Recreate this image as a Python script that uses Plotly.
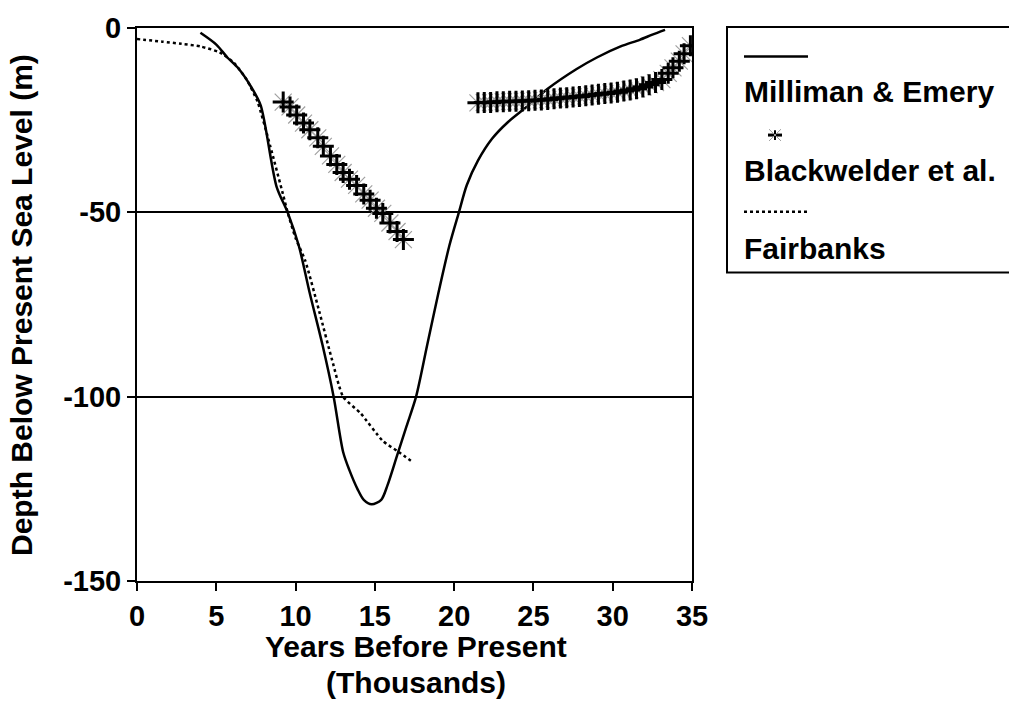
import plotly.graph_objects as go

# ---------------- data ----------------
milliman_x = [4.0, 5.0, 5.7, 6.4, 7.2, 7.8, 8.8, 9.5, 10.2, 10.9, 11.7, 12.4,
              13.0, 13.4, 13.9, 14.3, 14.8, 15.4, 15.8, 16.4, 17.0, 17.6, 18.3,
              19.0, 19.7, 20.3, 20.8, 21.5, 22.4, 23.4, 24.6, 25.9, 27.7, 29.0,
              30.5, 31.7, 32.5, 33.3]
milliman_y = [-1.3, -4.5, -8.0, -11.0, -16.0, -21.0, -43.0, -50.0, -59.0,
              -72.0, -86.0, -100.0, -115.0, -120.0, -125.0, -128.0, -129.2, -128.0,
              -124.0, -116.0, -108.0, -100.0, -86.0, -72.0, -59.0, -50.0, -42.6,
              -36.0, -30.0, -25.5, -21.3, -16.5, -11.2, -8.0, -5.0, -3.2, -1.8, -0.5]

fairbanks_x = [0.0, 1.6, 2.8, 4.0, 5.2, 6.1, 6.9, 7.6, 8.4, 9.2, 9.5, 10.0, 10.6,
               11.5, 12.3, 13.0, 14.1, 15.5, 16.5, 17.4]
fairbanks_y = [-3.0, -3.7, -4.3, -5.0, -6.6, -9.4, -13.9, -20.0, -32.0, -45.0,
               -50.0, -57.0, -63.0, -77.0, -90.0, -100.0, -104.5, -112.0, -115.0,
               -117.8]

black1_x = [9.22, 9.65, 10.07, 10.5, 10.9, 11.4, 11.75, 12.2, 12.6, 13.0, 13.4,
            13.85, 14.3, 14.7, 15.1, 15.5, 15.95, 16.4, 16.8]
black1_y = [-20.1, -21.4, -23.6, -25.8, -27.6, -29.8, -32.1, -34.7, -37.0, -39.2,
            -41.0, -42.7, -45.0, -46.7, -48.9, -50.3, -52.9, -55.2, -57.4]

black2_x = [21.5, 21.9, 22.3, 22.7, 23.1, 23.5, 23.9, 24.3, 24.7, 25.1, 25.5, 25.9,
            26.3, 26.7, 27.1, 27.5, 27.9, 28.3, 28.7, 29.1, 29.5, 29.9, 30.3, 30.7,
            31.1, 31.5, 31.9, 32.3, 32.7, 33.1, 33.5, 33.8, 34.2, 34.5, 34.9]
black2_y = [-20.3, -20.2, -20.2, -20.0, -20.0, -19.9, -19.9, -19.8, -19.7, -19.6,
            -19.5, -19.4, -19.2, -19.0, -18.9, -18.7, -18.6, -18.4, -18.2, -18.0,
            -17.8, -17.6, -17.4, -17.1, -16.8, -16.5, -16.0, -15.4, -14.8, -14.0,
            -12.3, -10.8, -9.0, -7.0, -4.8]

x_ticks = [0, 5, 10, 15, 20, 25, 30, 35]
x_ticktext = ["0", "5", "10", "15", "20", "25", "30", "35"]
y_ticks = [0, -50, -100, -150]
y_ticktext = ["0", "-50", "-100", "-150"]

legend_names = ["Milliman & Emery", "Blackwelder et al.", "Fairbanks"]
x_title_lines = ["Years Before Present", "(Thousands)"]
y_title = "Depth Below Present Sea Level (m)"

# ---------------- figure ----------------
FONT = "Liberation Sans, Arial, Helvetica, sans-serif"
W, H = 1009, 702
L, R, T, B = 137, 317, 18, 121
PW, PH = W - L - R, H - T - B


def px(x):
    return (x - L) / PW


def py(y):
    return (H - B - y) / PH


fig = go.Figure()

fig.add_trace(go.Scatter(x=milliman_x, y=milliman_y, mode="lines",
                         line=dict(color="black", width=2.5, shape="spline", smoothing=0.8),
                         name=legend_names[0]))
fig.add_trace(go.Scatter(x=fairbanks_x, y=fairbanks_y, mode="lines",
                         line=dict(color="black", width=2.5, dash="dot", shape="spline",
                                   smoothing=0.6),
                         name=legend_names[2]))
for bx, by in [(black1_x, black1_y), (black2_x, black2_y)]:
    fig.add_trace(go.Scatter(x=bx, y=by, mode="markers",
                             marker=dict(symbol="x-thin-open", size=17, color="#a0a0a0",
                                         line=dict(color="#a0a0a0", width=1.2)),
                             hoverinfo="skip"))
    fig.add_trace(go.Scatter(x=bx, y=by, mode="markers",
                             marker=dict(symbol="cross-thin-open", size=15, color="black",
                                         line=dict(color="black", width=3)),
                             name=legend_names[1]))

tickfont = dict(family=FONT, size=29, color="black", weight="bold")
axis_common = dict(showline=True, linecolor="black", linewidth=2, mirror=True,
                   ticks="outside", ticklen=8, tickwidth=2, tickcolor="black",
                   zeroline=False, tickfont=tickfont)

fig.update_xaxes(range=[0, 35], tickvals=x_ticks, ticktext=x_ticktext, showgrid=False,
                 **axis_common)
fig.update_yaxes(range=[-150, 0], tickvals=y_ticks, ticktext=y_ticktext, showgrid=True,
                 gridcolor="black", gridwidth=2, **axis_common)

# axis titles
title_font = dict(family=FONT, size=30, color="black", weight="bold")
fig.add_annotation(xref="paper", yref="paper", x=px(416), y=py(648), text=x_title_lines[0],
                   showarrow=False, xanchor="center", yanchor="middle", font=title_font)
fig.add_annotation(xref="paper", yref="paper", x=px(416), y=py(684), text=x_title_lines[1],
                   showarrow=False, xanchor="center", yanchor="middle", font=title_font)
fig.add_annotation(xref="paper", yref="paper", x=px(22), y=py(300), text=y_title,
                   textangle=-90, showarrow=False, xanchor="center", yanchor="middle",
                   font=dict(family=FONT, size=30, color="black", weight="bold"))

# ---------------- custom legend (symbol above text) ----------------
shapes = [
    dict(type="rect", xref="paper", yref="paper", x0=px(727), x1=px(1014),
         y0=py(267), y1=py(17), line=dict(color="black", width=2)),
    dict(type="line", xref="paper", yref="paper", x0=px(744), x1=px(808),
         y0=py(47), y1=py(47), line=dict(color="black", width=2.5)),
    dict(type="line", xref="paper", yref="paper", x0=px(744), x1=px(808),
         y0=py(205), y1=py(205), line=dict(color="black", width=2.5, dash="dot")),
    dict(type="line", xref="paper", yref="paper", x0=px(768), x1=px(782),
         y0=py(127), y1=py(127), line=dict(color="black", width=3)),
    dict(type="line", xref="paper", yref="paper", x0=px(775), x1=px(775),
         y0=py(122), y1=py(132), line=dict(color="black", width=2)),
    dict(type="line", xref="paper", yref="paper", x0=px(769), x1=px(781),
         y0=py(121), y1=py(133), line=dict(color="#a0a0a0", width=1)),
    dict(type="line", xref="paper", yref="paper", x0=px(769), x1=px(781),
         y0=py(133), y1=py(121), line=dict(color="#a0a0a0", width=1)),
]
fig.update_layout(shapes=shapes)

ann_y = [83, 163, 242]
for name, yy in zip(legend_names, ann_y):
    fig.add_annotation(xref="paper", yref="paper", x=px(742), y=py(yy), text=name,
                       showarrow=False, xanchor="left", yanchor="middle",
                       font=dict(family=FONT, size=30, color="black", weight="bold"))

fig.update_layout(width=W, height=H, margin=dict(l=L, r=R, t=T, b=B),
                  paper_bgcolor="white", plot_bgcolor="white", showlegend=False)

fig.write_html("out.html")
